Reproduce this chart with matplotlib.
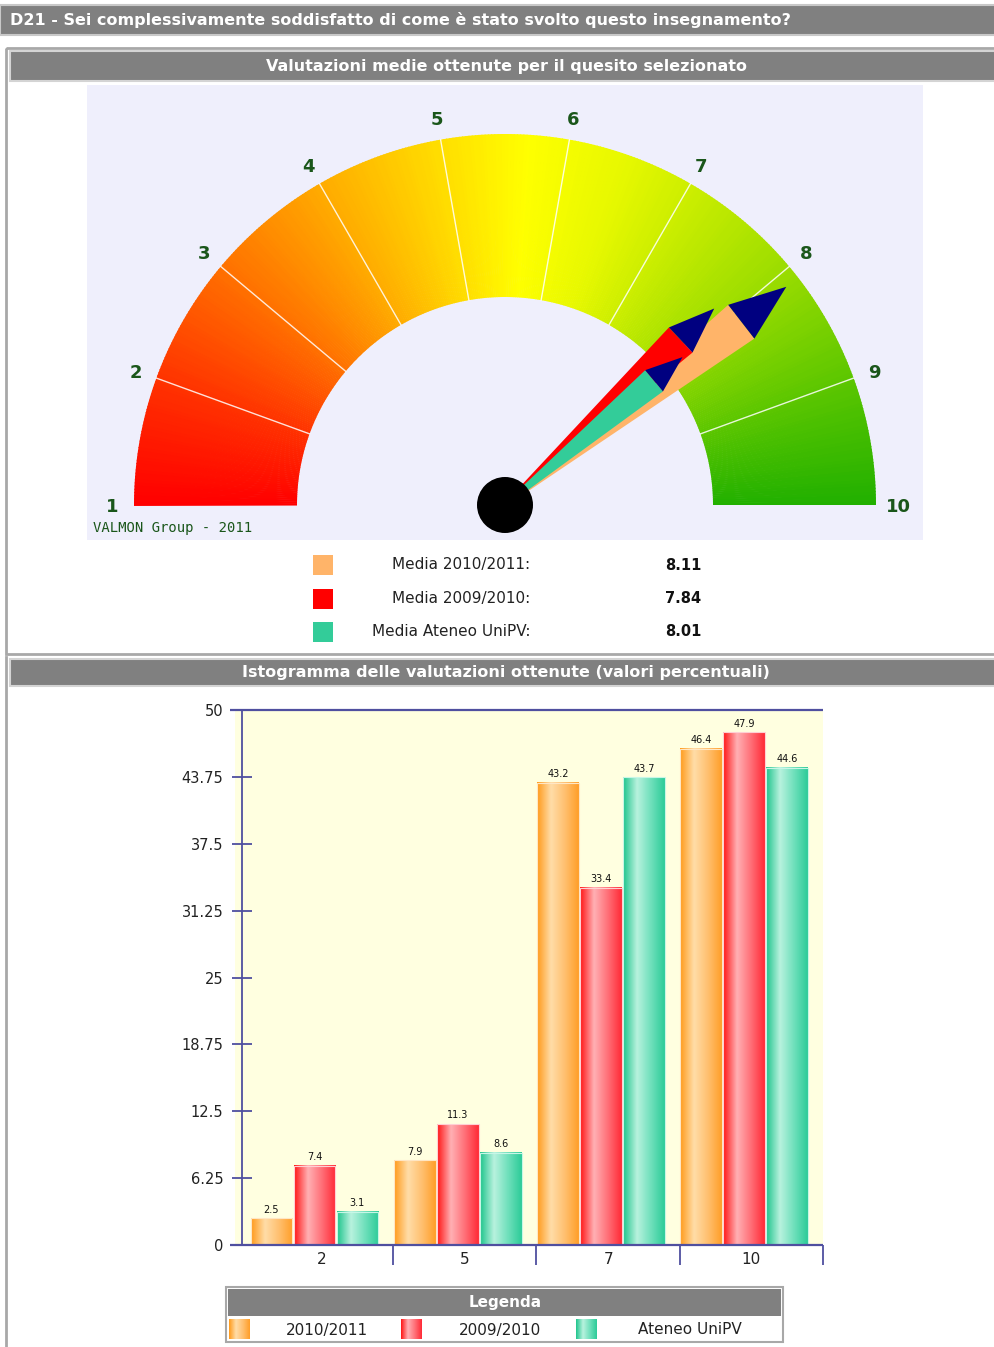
import numpy as np
import matplotlib
matplotlib.use('Agg')
import matplotlib.pyplot as plt
from matplotlib.patches import Rectangle, Wedge, Polygon, Circle
from matplotlib.colors import LinearSegmentedColormap

plt.rcParams['font.family'] = ['DejaVu Sans']

W, H = 995, 1347

# --- dati ---
titolo = 'D21 - Sei complessivamente soddisfatto di come è stato svolto questo insegnamento?'
titolo_gauge = 'Valutazioni medie ottenute per il quesito selezionato'
titolo_isto = 'Istogramma delle valutazioni ottenute (valori percentuali)'
serie = ['2010/2011', '2009/2010', 'Ateneo UniPV']
medie_label = ['Media 2010/2011:', 'Media 2009/2010:', 'Media Ateneo UniPV:']
medie = [8.11, 7.84, 8.01]
scala = list(range(1, 11))
categorie = ['2', '5', '7', '10']
v_2011 = [2.5, 7.9, 43.2, 46.4]
v_2010 = [7.4, 11.3, 33.4, 47.9]
v_ateneo = [3.1, 8.6, 43.7, 44.6]
y_ticks = [0, 6.25, 12.5, 18.75, 25, 31.25, 37.5, 43.75, 50]

GRAY = '#808080'
AX_C = '#4F4F9F'
GREEN_TXT = '#1A561A'

fig = plt.figure(figsize=(W / 100, H / 100), dpi=100)
bg = fig.add_axes([0, 0, 1, 1])
bg.set_xlim(0, W)
bg.set_ylim(H, 0)
bg.axis('off')


def px_axes(x0, y0, x1, y1):
    return fig.add_axes([x0 / W, 1 - y1 / H, (x1 - x0) / W, (y1 - y0) / H])


def header(x0, y0, x1, y1, txt, xt, ha='center', ec='#C8C8C8', fs=11.5):
    bg.add_patch(Rectangle((x0, y0), x1 - x0, y1 - y0, fc=GRAY, ec=ec, lw=1.5))
    bg.text(xt, (y0 + y1) / 2, txt, color='white', fontsize=fs,
            fontweight='bold', ha=ha, va='center')


# titolo principale e riquadri
header(0, 5, 996, 35, titolo, 10, ha='left')
bg.add_patch(Rectangle((6, 48), 1000, 606, fc='none', ec='#A8A8A8', lw=2))
header(10, 51, 996, 81, titolo_gauge, 506, ec='#D4D4D4')
bg.plot([6, 6], [657, H + 2], color='#A8A8A8', lw=2)
header(10, 659, 996, 686, titolo_isto, 506, ec='#D4D4D4')

# --- gauge ---
ga = px_axes(87, 85, 923, 540)
cx, cy = 505, 505
ga.set_xlim(87 - cx, 923 - cx)
ga.set_ylim(cy - 540, cy - 85)
ga.set_facecolor('#EFEFFC')
for s in ga.spines.values():
    s.set_visible(False)
ga.set_xticks([])
ga.set_yticks([])

gauge_cm = LinearSegmentedColormap.from_list('gauge', [
    (0.0, '#FF0000'), (0.11, '#FF3300'), (0.22, '#FF7000'), (0.33, '#FFAA00'),
    (0.44, '#FFDD00'), (0.52, '#FFFF00'), (0.61, '#E6F800'), (0.67, '#CCEE00'),
    (0.78, '#9ADC00'), (0.89, '#5CC600'), (1.0, '#22B000')])

R_OUT, R_IN = 371, 208


def ang(v):
    return 180 - 20 * (v - 1)


step = 0.5
for t in np.arange(0, 180, step):
    ga.add_patch(Wedge((0, 0), R_OUT, t, t + step + 0.15, width=R_OUT - R_IN,
                       fc=gauge_cm(1 - (t + step / 2) / 180), ec='none'))
for v in scala[1:-1]:
    a = np.radians(ang(v))
    ga.plot([R_IN * np.cos(a), R_OUT * np.cos(a)],
            [R_IN * np.sin(a), R_OUT * np.sin(a)], color='white', lw=1, alpha=0.85)
for v in scala:
    a = np.radians(ang(v))
    ga.text(393 * np.cos(a), 393 * np.sin(a) - 2, str(v), ha='center', va='center',
            color=GREEN_TXT, fontsize=13, fontweight='bold')
ga.text(87 - cx + 6, cy - 528, 'VALMON Group - 2011', family='DejaVu Sans Mono',
        fontsize=10, color=GREEN_TXT, ha='left', va='center')

needle_len = [356, 287, 231]
needle_col = ['#FFB469', '#FF0000', '#33CC99']
for v, L, c in zip(medie, needle_len, needle_col):
    a = np.radians(ang(v))
    u = np.array([np.cos(a), np.sin(a)])
    n = np.array([-np.sin(a), np.cos(a)])
    sh = 0.84 * L * u
    w = 0.06 * L
    ga.add_patch(Polygon([-1.5 * n, sh - w * n, sh + w * n, 1.5 * n], fc=c, ec='none',
                         zorder=4))
    ga.add_patch(Polygon([sh + w * n, L * u, sh - w * n], fc='#000080', ec='none',
                         zorder=4))
ga.add_patch(Circle((0, 0), 28, fc='black', ec='none', zorder=5))

# legenda medie
for k, (lab, v, c) in enumerate(zip(medie_label, medie, needle_col)):
    y = 565 + k * 33.5
    bg.add_patch(Rectangle((313, y - 10), 20, 20, fc=c, ec='none'))
    bg.text(530, y, lab, ha='right', va='center', fontsize=11, color='#222222')
    bg.text(665, y, f'{v:.2f}', ha='left', va='center', fontsize=10.5,
            fontweight='bold', color='#111111')

# --- istogramma ---
cms = [
    LinearSegmentedColormap.from_list('o', ['#FF9A1A', '#FFDDA8', '#FFC070', '#FF9E28']),
    LinearSegmentedColormap.from_list('r', ['#FF1414', '#FFB0B4', '#FF7078', '#FF2A36']),
    LinearSegmentedColormap.from_list('t', ['#1EC48C', '#B8F2DE', '#70E0BC', '#2CCB98']),
]
edge_col = ['#FFE6C4', '#FFD0D4', '#C8F6E6']

PX = 143.25
ba = px_axes(235, 710, 823, 1245)
ba.set_xlim(-15 / PX, 4)
ba.set_ylim(0, 50)
ba.set_facecolor('#FFFFE0')
for k in ['top', 'right', 'bottom']:
    ba.spines[k].set_visible(False)
ba.spines['left'].set_position(('data', -8 / PX))
ba.spines['left'].set_color(AX_C)
ba.spines['left'].set_linewidth(1.3)

grad = np.linspace(0, 1, 128)[None, :]
for s, vals in enumerate([v_2011, v_2010, v_ateneo]):
    for i, v in enumerate(vals):
        x0 = i + 0.3 * s + 0.004
        x1 = x0 + 0.292
        ba.imshow(grad, cmap=cms[s], extent=[x0, x1, 0, v], aspect='auto',
                  interpolation='bilinear', zorder=2)
        ba.add_patch(Rectangle((x0, 0), x1 - x0, v, fill=False, ec=edge_col[s],
                               lw=0.8, zorder=3))
        ba.text((x0 + x1) / 2, v + 0.35, f'{v:g}', ha='center', va='bottom',
                fontsize=7, color='#111111', zorder=4)
ba.set_xlim(-15 / PX, 4)
ba.set_ylim(0, 50)

ba.hlines([0, 50], -20 / PX, 4, color=AX_C, lw=1.6, clip_on=False, zorder=5)
ba.vlines([1, 2, 3, 4], -20 / 10.7, 0, color=AX_C, lw=1.3, clip_on=False)
ba.set_yticks(y_ticks)
ba.set_yticklabels([f'{t:g}' for t in y_ticks])
ba.tick_params(axis='y', direction='inout', length=15, width=1.3, color=AX_C,
               labelcolor='#222222', labelsize=10.5, pad=6)
ba.set_xticks([0.5, 1.5, 2.5, 3.5])
ba.set_xticklabels(categorie)
ba.tick_params(axis='x', length=0, pad=5, labelsize=11, labelcolor='#222222')

# legenda istogramma
bg.add_patch(Rectangle((226, 1287), 557, 55, fc='white', ec='#A8A8A8', lw=1.5))
bg.add_patch(Rectangle((228, 1289), 553, 27, fc=GRAY, ec='none'))
bg.text(505, 1303, 'Legenda', color='white', fontsize=11, fontweight='bold',
        ha='center', va='center')
sw_x = [229, 401, 576]
txt_x = [327, 500, 690]
for s, lab in enumerate(serie):
    bg.imshow(grad, cmap=cms[s], extent=[sw_x[s], sw_x[s] + 21, 1339, 1319],
              aspect='auto', interpolation='bilinear', zorder=3)
    bg.text(txt_x[s], 1330, lab, ha='center', va='center', fontsize=11, color='#222222')
bg.set_xlim(0, W)
bg.set_ylim(H, 0)

fig.savefig('out.png', dpi=100, facecolor='white')
